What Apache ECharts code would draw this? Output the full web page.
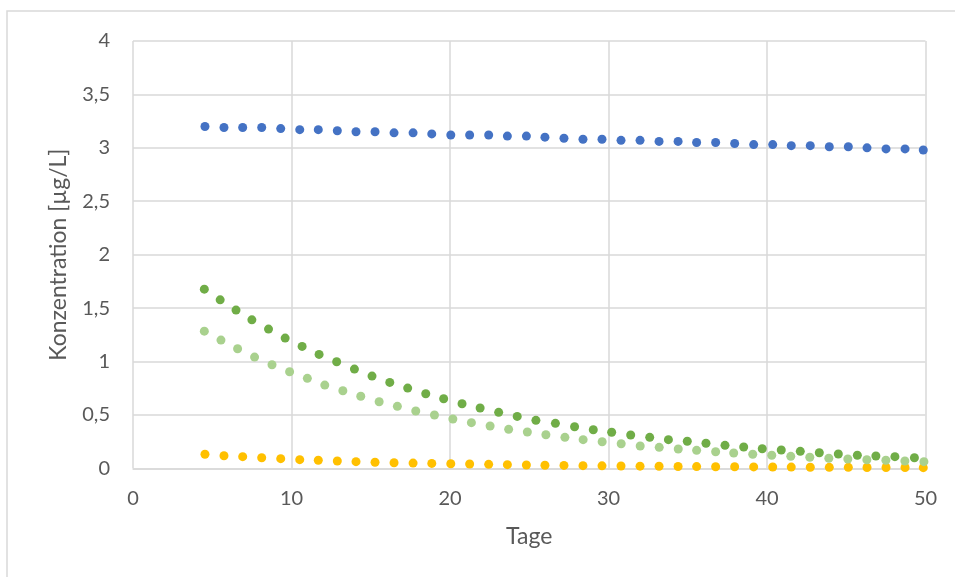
<!DOCTYPE html>
<html>
<head>
<meta charset="utf-8">
<script src="https://cdn.jsdelivr.net/npm/echarts@6/dist/echarts.min.js"></script>
<style>
html,body{margin:0;padding:0;background:#fff;}
#chart{width:955px;height:577px;}
</style>
</head>
<body>
<div id="chart"></div>
<script>
// Days (x) for blue and yellow series
var daysA = [4.54, 5.74, 6.92, 8.12, 9.32, 10.52, 11.69, 12.89, 14.07, 15.27, 16.47, 17.67, 18.85, 20.05, 21.24, 22.44, 23.62, 24.82, 25.99, 27.19, 28.39, 29.59, 30.79, 31.99, 33.19, 34.39, 35.56, 36.76, 37.96, 39.16, 40.36, 41.53, 42.73, 43.93, 45.13, 46.31, 47.51, 48.71, 49.86];
var blueValues = [3.20, 3.19, 3.19, 3.19, 3.18, 3.17, 3.17, 3.16, 3.15, 3.15, 3.14, 3.14, 3.13, 3.12, 3.12, 3.12, 3.11, 3.11, 3.10, 3.09, 3.08, 3.08, 3.07, 3.07, 3.06, 3.06, 3.05, 3.05, 3.04, 3.03, 3.03, 3.02, 3.02, 3.01, 3.01, 3.00, 2.99, 2.99, 2.98];
var yellowValues = [0.131, 0.118, 0.109, 0.099, 0.090, 0.081, 0.075, 0.068, 0.062, 0.057, 0.052, 0.049, 0.046, 0.043, 0.040, 0.037, 0.034, 0.031, 0.029, 0.027, 0.025, 0.023, 0.022, 0.020, 0.019, 0.017, 0.016, 0.015, 0.014, 0.013, 0.012, 0.011, 0.010, 0.009, 0.009, 0.008, 0.007, 0.007, 0.006];
// Dark green series
var daysDark = [4.5, 5.5, 6.5, 7.5, 8.55, 9.6, 10.67, 11.74, 12.85, 13.97, 15.08, 16.2, 17.33, 18.47, 19.6, 20.76, 21.9, 23.07, 24.24, 25.42, 26.65, 27.86, 29.04, 30.2, 31.4, 32.6, 33.78, 34.97, 36.15, 37.35, 38.53, 39.7, 40.9, 42.1, 43.3, 44.5, 45.7, 46.87, 48.07, 49.3];
var darkGreenValues = [1.677, 1.577, 1.481, 1.390, 1.303, 1.219, 1.141, 1.066, 0.997, 0.929, 0.863, 0.804, 0.751, 0.698, 0.651, 0.604, 0.564, 0.524, 0.486, 0.449, 0.421, 0.389, 0.361, 0.337, 0.312, 0.290, 0.268, 0.253, 0.234, 0.215, 0.199, 0.183, 0.171, 0.159, 0.146, 0.134, 0.122, 0.115, 0.109, 0.099];
// Light green series
var daysLight = [4.5, 5.55, 6.6, 7.67, 8.77, 9.88, 11.0, 12.1, 13.24, 14.37, 15.53, 16.68, 17.84, 19.02, 20.18, 21.35, 22.53, 23.7, 24.88, 26.05, 27.25, 28.4, 29.6, 30.8, 32.0, 33.2, 34.4, 35.56, 36.76, 37.9, 39.1, 40.3, 41.5, 42.7, 43.9, 45.1, 46.3, 47.5, 48.7, 49.9];
var lightGreenValues = [1.284, 1.200, 1.119, 1.041, 0.969, 0.904, 0.842, 0.779, 0.726, 0.674, 0.623, 0.580, 0.536, 0.499, 0.461, 0.427, 0.396, 0.365, 0.340, 0.314, 0.290, 0.268, 0.249, 0.230, 0.209, 0.196, 0.181, 0.168, 0.155, 0.143, 0.131, 0.122, 0.112, 0.103, 0.094, 0.087, 0.080, 0.075, 0.068, 0.062];

var xAxisTitle = 'Tage';
var yAxisTitle = 'Konzentration [µg/L]';

function pairs(xs, ys){ return xs.map(function(x,i){ return [x, ys[i]]; }); }
function fmt(v){ return String(v).replace('.', ','); }

var FONT = 'Lato';
var chart = echarts.init(document.getElementById('chart'), null, {renderer:'canvas'});
chart.setOption({
  animation: false,
  backgroundColor: '#ffffff',
  grid: {left: 133, top: 41, right: 29.5, bottom: 108.7, containLabel: false},
  xAxis: {
    type: 'value', min: 0, max: 50, interval: 10,
    name: xAxisTitle, nameLocation: 'middle', nameGap: 57,
    nameTextStyle: {color: '#595959', fontSize: 23, fontFamily: FONT},
    axisLine: {show: true, lineStyle: {color: '#d9d9d9', width: 1.5}},
    axisTick: {show: false},
    axisLabel: {color: '#595959', fontSize: 20, fontFamily: FONT, margin: 20, formatter: fmt},
    splitLine: {show: true, lineStyle: {color: '#d9d9d9', width: 1.5}}
  },
  yAxis: {
    type: 'value', min: 0, max: 4, interval: 0.5,
    name: yAxisTitle, nameLocation: 'middle', nameGap: 63,
    nameTextStyle: {color: '#595959', fontSize: 23, fontFamily: FONT},
    axisLine: {show: false},
    axisTick: {show: false},
    axisLabel: {color: '#595959', fontSize: 20, fontFamily: FONT, margin: 23, formatter: fmt},
    splitLine: {show: true, lineStyle: {color: '#d9d9d9', width: 1.5}}
  },
  graphic: [{
    type: 'rect', z: 0, silent: true,
    shape: {x: 7, y: 11, width: 1000, height: 1000},
    style: {fill: null, stroke: '#d9d9d9', lineWidth: 1.5}
  }],
  series: [
    {type: 'scatter', data: pairs(daysA, blueValues), symbolSize: 9, itemStyle: {color: '#4472C4', opacity: 1}},
    {type: 'scatter', data: pairs(daysA, yellowValues), symbolSize: 9, itemStyle: {color: '#FFC000', opacity: 1}},
    {type: 'scatter', data: pairs(daysLight, lightGreenValues), symbolSize: 9, itemStyle: {color: '#A9D18E', opacity: 1}},
    {type: 'scatter', data: pairs(daysDark, darkGreenValues), symbolSize: 9, itemStyle: {color: '#70AD47', opacity: 1}}
  ]
});
</script>
</body>
</html>
